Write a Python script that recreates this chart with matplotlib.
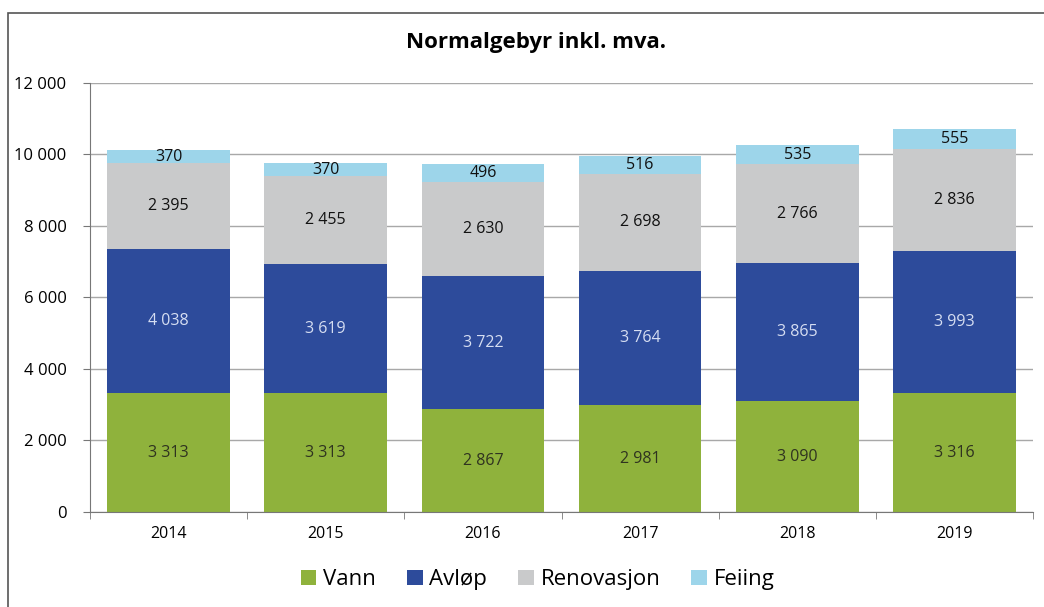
import matplotlib.pyplot as plt
from matplotlib.patches import Rectangle
from matplotlib.ticker import FuncFormatter, FixedLocator

years = ["2014", "2015", "2016", "2017", "2018", "2019"]
vann = [3313, 3313, 2867, 2981, 3090, 3316]
avlop = [4038, 3619, 3722, 3764, 3865, 3993]
renovasjon = [2395, 2455, 2630, 2698, 2766, 2836]
feiing = [370, 370, 496, 516, 535, 555]

series = [
    ("Vann", vann, "#8fb23c", "#2f3320"),
    ("Avløp", avlop, "#2d4b9b", "#d6def2"),
    ("Renovasjon", renovasjon, "#c9cacb", "#111111"),
    ("Feiing", feiing, "#9dd5ea", "#111111"),
]


def fmt(v, pos=None):
    return f"{int(v):,}".replace(",", " ")


plt.rcParams['font.family'] = ['Open Sans', 'DejaVu Sans']

fig = plt.figure(figsize=(10.44, 6.07), dpi=100)
ax = fig.add_axes([0.0862, 0.1565, 0.9033, 0.7073])

# chart frame (scanned border)
fig.patches.append(Rectangle((0.008, -0.05), 1.2, 1.028, transform=fig.transFigure,
                             fill=False, edgecolor="#555555", linewidth=1.2))

x = list(range(len(years)))
bottom = [0] * len(years)
for name, vals, color, tcolor in series:
    ax.bar(x, vals, width=0.78, bottom=bottom, color=color, label=name, zorder=2)
    for xi, b, v in zip(x, bottom, vals):
        ax.text(xi, b + v / 2, fmt(v), ha="center", va="center",
                fontsize=11.5, color=tcolor, zorder=3)
    bottom = [b + v for b, v in zip(bottom, vals)]

ax.set_xlim(-0.5, len(years) - 0.5)
ax.set_ylim(0, 12000)
ax.set_yticks(range(0, 12001, 2000))
ax.yaxis.set_major_formatter(FuncFormatter(fmt))
ax.set_xticks(x)
ax.set_xticklabels(years)
ax.xaxis.set_minor_locator(FixedLocator([i - 0.5 for i in range(len(years) + 1)]))
ax.tick_params(axis="x", which="major", length=0, pad=10, labelsize=11.5)
ax.tick_params(axis="x", which="minor", length=5, color="#777777")
ax.tick_params(axis="y", length=5, color="#777777", labelsize=12, pad=12)
ax.grid(axis="y", color="#a8a8a8", linewidth=1.0, zorder=0)
ax.set_axisbelow(True)
for s in ["top", "right"]:
    ax.spines[s].set_visible(False)
ax.spines["left"].set_color("#777777")
ax.spines["bottom"].set_color("#777777")

fig.suptitle("Normalgebyr inkl. mva.", x=0.513, y=0.948, fontsize=16, fontweight="bold")

fig.legend(loc="center", bbox_to_anchor=(0.515, 0.045), ncol=4, frameon=False,
           fontsize=16, handlelength=0.7, handleheight=0.7, handletextpad=0.3,
           columnspacing=1.4)

fig.savefig("out.png", dpi=100)
